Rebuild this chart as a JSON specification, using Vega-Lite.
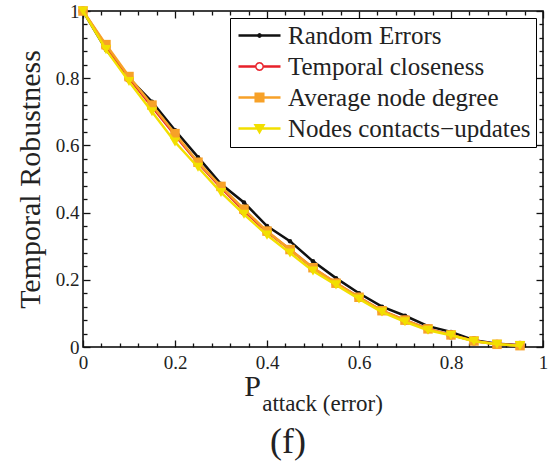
{
  "$schema": "https://vega.github.io/schema/vega-lite/v6.json",
  "autosize": {"type": "none"},
  "padding": {"left": 83, "top": 11, "right": 9, "bottom": 117},
  "width": 460,
  "height": 336,
  "background": "white",
  "title": {"text": "(f)", "orient": "bottom", "fontSize": 36, "font": "Liberation Serif, Times New Roman, serif", "fontWeight": "normal", "color": "#222", "dx": -25, "offset": 10},
  "config": {
    "view": {"stroke": "#000", "strokeWidth": 1.5},
    "axis": {"grid": false, "domain": false, "tickColor": "#111", "tickWidth": 1.3, "labelFont": "Liberation Serif, Times New Roman, serif", "labelFontSize": 19, "labelColor": "#222", "titleFont": "Liberation Serif, Times New Roman, serif", "titleFontWeight": "normal", "titleColor": "#222"},
    "legend": {"orient": "none", "legendX": 147, "legendY": 7, "title": null, "labelFont": "Liberation Serif, Times New Roman, serif", "labelFontSize": 25, "labelLimit": 0, "labelColor": "#222", "strokeColor": "#000", "fillColor": "#fff", "padding": 5, "symbolOffset": 12, "labelOffset": 16, "rowPadding": 5, "symbolSize": 576, "symbolStrokeWidth": 0}
  },
  "data": {"values": [
    {"p":0,"s":"Random Errors","v":1},{"p":0.05,"s":"Random Errors","v":0.885},{"p":0.1,"s":"Random Errors","v":0.8},{"p":0.15,"s":"Random Errors","v":0.73},{"p":0.2,"s":"Random Errors","v":0.645},{"p":0.25,"s":"Random Errors","v":0.565},{"p":0.3,"s":"Random Errors","v":0.485},{"p":0.35,"s":"Random Errors","v":0.43},{"p":0.4,"s":"Random Errors","v":0.36},{"p":0.45,"s":"Random Errors","v":0.315},{"p":0.5,"s":"Random Errors","v":0.255},{"p":0.55,"s":"Random Errors","v":0.205},{"p":0.6,"s":"Random Errors","v":0.16},{"p":0.65,"s":"Random Errors","v":0.12},{"p":0.7,"s":"Random Errors","v":0.093},{"p":0.75,"s":"Random Errors","v":0.062},{"p":0.8,"s":"Random Errors","v":0.045},{"p":0.85,"s":"Random Errors","v":0.02},{"p":0.9,"s":"Random Errors","v":0.01},{"p":0.95,"s":"Random Errors","v":0.005},
    {"p":0,"s":"Temporal closeness","v":1},{"p":0.05,"s":"Temporal closeness","v":0.895},{"p":0.1,"s":"Temporal closeness","v":0.8},{"p":0.15,"s":"Temporal closeness","v":0.715},{"p":0.2,"s":"Temporal closeness","v":0.63},{"p":0.25,"s":"Temporal closeness","v":0.548},{"p":0.3,"s":"Temporal closeness","v":0.474},{"p":0.35,"s":"Temporal closeness","v":0.405},{"p":0.4,"s":"Temporal closeness","v":0.343},{"p":0.45,"s":"Temporal closeness","v":0.29},{"p":0.5,"s":"Temporal closeness","v":0.235},{"p":0.55,"s":"Temporal closeness","v":0.19},{"p":0.6,"s":"Temporal closeness","v":0.148},{"p":0.65,"s":"Temporal closeness","v":0.108},{"p":0.7,"s":"Temporal closeness","v":0.08},{"p":0.75,"s":"Temporal closeness","v":0.054},{"p":0.8,"s":"Temporal closeness","v":0.036},{"p":0.85,"s":"Temporal closeness","v":0.018},{"p":0.9,"s":"Temporal closeness","v":0.008},{"p":0.95,"s":"Temporal closeness","v":0.005},
    {"p":0,"s":"Average node degree","v":1},{"p":0.05,"s":"Average node degree","v":0.9},{"p":0.1,"s":"Average node degree","v":0.805},{"p":0.15,"s":"Average node degree","v":0.72},{"p":0.2,"s":"Average node degree","v":0.635},{"p":0.25,"s":"Average node degree","v":0.55},{"p":0.3,"s":"Average node degree","v":0.478},{"p":0.35,"s":"Average node degree","v":0.41},{"p":0.4,"s":"Average node degree","v":0.345},{"p":0.45,"s":"Average node degree","v":0.29},{"p":0.5,"s":"Average node degree","v":0.236},{"p":0.55,"s":"Average node degree","v":0.19},{"p":0.6,"s":"Average node degree","v":0.148},{"p":0.65,"s":"Average node degree","v":0.108},{"p":0.7,"s":"Average node degree","v":0.08},{"p":0.75,"s":"Average node degree","v":0.054},{"p":0.8,"s":"Average node degree","v":0.036},{"p":0.85,"s":"Average node degree","v":0.018},{"p":0.9,"s":"Average node degree","v":0.008},{"p":0.95,"s":"Average node degree","v":0.004},
    {"p":0,"s":"Nodes contacts−updates","v":1},{"p":0.05,"s":"Nodes contacts−updates","v":0.885},{"p":0.1,"s":"Nodes contacts−updates","v":0.79},{"p":0.15,"s":"Nodes contacts−updates","v":0.7},{"p":0.2,"s":"Nodes contacts−updates","v":0.61},{"p":0.25,"s":"Nodes contacts−updates","v":0.535},{"p":0.3,"s":"Nodes contacts−updates","v":0.46},{"p":0.35,"s":"Nodes contacts−updates","v":0.395},{"p":0.4,"s":"Nodes contacts−updates","v":0.333},{"p":0.45,"s":"Nodes contacts−updates","v":0.28},{"p":0.5,"s":"Nodes contacts−updates","v":0.226},{"p":0.55,"s":"Nodes contacts−updates","v":0.185},{"p":0.6,"s":"Nodes contacts−updates","v":0.143},{"p":0.65,"s":"Nodes contacts−updates","v":0.104},{"p":0.7,"s":"Nodes contacts−updates","v":0.075},{"p":0.75,"s":"Nodes contacts−updates","v":0.05},{"p":0.8,"s":"Nodes contacts−updates","v":0.035},{"p":0.85,"s":"Nodes contacts−updates","v":0.017},{"p":0.9,"s":"Nodes contacts−updates","v":0.008},{"p":0.95,"s":"Nodes contacts−updates","v":0.004}
  ]},
  "layer": [
    {
      "encoding": {
        "x": {"field": "p", "type": "quantitative", "scale": {"domain": [0, 1]},
          "axis": {"orient": "bottom", "values": [0,0.2,0.4,0.6,0.8,1], "format": "~g", "ticks": false,
            "labelPadding": 6, "labelFlush": false,
            "title": "P", "titleFontSize": 30, "titleX": 169, "titleY": 48, "titleBaseline": "alphabetic", "titleAlign": "center", "titleAnchor": null}},
        "y": {"field": "v", "type": "quantitative", "scale": {"domain": [0, 1]},
          "axis": {"orient": "left", "values": [0,0.2,0.4,0.6,0.8,1], "format": "~g", "ticks": false,
            "labelPadding": 4, "labelFlush": false,
            "title": "Temporal Robustness", "titleFontSize": 30, "titleX": -44, "titleY": 168, "titleBaseline": "alphabetic", "titleAlign": "center", "titleAngle": -90}}
      },
      "layer": [
        {"transform": [{"filter": "datum.s === 'Random Errors'"}],
         "mark": {"type": "line", "color": "#111", "strokeWidth": 2.5, "point": {"filled": true, "color": "#111", "size": 20}}},
        {"transform": [{"filter": "datum.s === 'Temporal closeness'"}],
         "mark": {"type": "line", "color": "#e8212a", "strokeWidth": 2.5, "point": {"filled": false, "color": "#e8212a", "size": 60, "strokeWidth": 1.5}}},
        {"transform": [{"filter": "datum.s === 'Average node degree'"}],
         "mark": {"type": "line", "color": "#f7a128", "strokeWidth": 2.5, "point": {"filled": true, "shape": "square", "color": "#f7a128", "size": 90}}},
        {"transform": [{"filter": "datum.s === 'Nodes contacts−updates'"}],
         "mark": {"type": "line", "color": "#f2df00", "strokeWidth": 2.5, "point": {"filled": true, "shape": "triangle-down", "color": "#f2df00", "size": 110}}},
        {"mark": {"type": "point", "filled": true, "opacity": 0},
         "encoding": {
           "shape": {"field": "s", "type": "nominal", "scale": {"domain": ["Random Errors", "Temporal closeness", "Average node degree", "Nodes contacts−updates"],
             "range": [
               "M-1.75,-0.1H1.75V0.1H-1.75Z M0.2,0L0.173,0.1L0.1,0.173L0,0.2L-0.1,0.173L-0.173,0.1L-0.2,0L-0.173,-0.1L-0.1,-0.173L0,-0.2L0.1,-0.173L0.173,-0.1Z",
               "M-1.75,-0.1H-0.36V0.1H-1.75Z M0.36,-0.1H1.75V0.1H0.36Z M0.375,0L0.325,0.188L0.188,0.325L0,0.375L-0.188,0.325L-0.325,0.188L-0.375,0L-0.325,-0.188L-0.188,-0.325L0,-0.375L0.188,-0.325L0.325,-0.188Z M0.25,0L0.217,-0.125L0.125,-0.217L0,-0.25L-0.125,-0.217L-0.217,-0.125L-0.25,0L-0.217,0.125L-0.125,0.217L0,0.25L0.125,0.217L0.217,0.125Z",
               "M-1.75,-0.1H1.75V0.1H-1.75Z M-0.42,-0.42H0.42V0.42H-0.42Z",
               "M-1.75,-0.1H1.75V0.1H-1.75Z M-0.5,-0.38H0.5L0,0.5Z"
             ]},
             "legend": {"encode": {"symbols": {"update": {"opacity": {"value": 1}, "strokeWidth": {"value": 0}}}}}},
           "color": {"field": "s", "type": "nominal", "scale": {"domain": ["Random Errors", "Temporal closeness", "Average node degree", "Nodes contacts−updates"], "range": ["#111", "#e8212a", "#f7a128", "#f2df00"]},
             "legend": {"encode": {"symbols": {"update": {"opacity": {"value": 1}, "strokeWidth": {"value": 0}}}}}}
         }}
      ]
    },
    {
      "mark": {"type": "point", "opacity": 0},
      "encoding": {
        "x": {"field": "p", "type": "quantitative", "scale": {"domain": [0, 1]},
          "axis": {"orient": "top", "offset": -336, "values": [0,0.04,0.08,0.12,0.16,0.2,0.24,0.28,0.32,0.36,0.4,0.44,0.48,0.52,0.56,0.6,0.64,0.68,0.72,0.76,0.8,0.84,0.88,0.92,0.96,1], "labels": false, "title": null,
            "tickSize": {"condition": {"test": "abs(round(datum.value*5)-datum.value*5)<0.001", "value": 7}, "value": 4}}},
        "y": {"field": "v", "type": "quantitative", "scale": {"domain": [0, 1]},
          "axis": {"orient": "right", "offset": -460, "values": [0,0.04,0.08,0.12,0.16,0.2,0.24,0.28,0.32,0.36,0.4,0.44,0.48,0.52,0.56,0.6,0.64,0.68,0.72,0.76,0.8,0.84,0.88,0.92,0.96,1], "labels": false, "title": null,
            "tickSize": {"condition": {"test": "abs(round(datum.value*5)-datum.value*5)<0.001", "value": 7}, "value": 4}}}
      }
    },
    {
      "mark": {"type": "point", "opacity": 0},
      "encoding": {
        "x": {"field": "p", "type": "quantitative", "scale": {"domain": [0, 1]},
          "axis": {"orient": "bottom", "offset": -336, "values": [0,0.04,0.08,0.12,0.16,0.2,0.24,0.28,0.32,0.36,0.4,0.44,0.48,0.52,0.56,0.6,0.64,0.68,0.72,0.76,0.8,0.84,0.88,0.92,0.96,1], "labels": false, "title": null,
            "tickSize": {"condition": {"test": "abs(round(datum.value*5)-datum.value*5)<0.001", "value": 7}, "value": 4}}},
        "y": {"field": "v", "type": "quantitative", "scale": {"domain": [0, 1]},
          "axis": {"orient": "left", "offset": -460, "values": [0,0.04,0.08,0.12,0.16,0.2,0.24,0.28,0.32,0.36,0.4,0.44,0.48,0.52,0.56,0.6,0.64,0.68,0.72,0.76,0.8,0.84,0.88,0.92,0.96,1], "labels": false, "title": null,
            "tickSize": {"condition": {"test": "abs(round(datum.value*5)-datum.value*5)<0.001", "value": 7}, "value": 4}}}
      }
    },
    {
      "mark": {"type": "point", "opacity": 0},
      "encoding": {
        "x": {"field": "p", "type": "quantitative", "scale": {"domain": [0, 1]},
          "axis": {"orient": "bottom", "labels": false, "ticks": false, "title": "attack (error)", "titleFontSize": 23, "titleX": 239, "titleY": 63, "titleBaseline": "alphabetic", "titleAlign": "center"}},
        "y": {"field": "v", "type": "quantitative", "scale": {"domain": [0, 1]}, "axis": null}
      }
    }
  ],
  "resolve": {"axis": {"x": "independent", "y": "independent"}}
}
